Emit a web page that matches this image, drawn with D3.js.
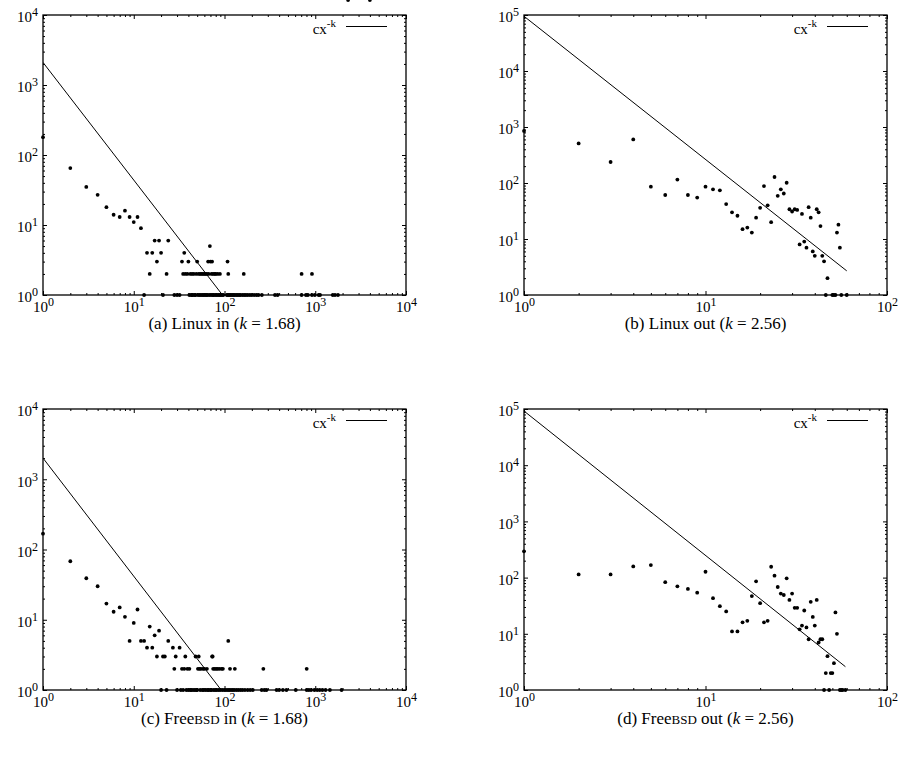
<!DOCTYPE html>
<html>
<head>
<meta charset="utf-8">
<script src="https://cdn.jsdelivr.net/npm/d3@7"></script>
<style>
  body { margin: 0; background: #fff; }
  svg { display: block; }
</style>
</head>
<body>
<svg width="901" height="760"></svg>
<script>
// (a) Linux in-degree distribution
let linuxInX = [1, 2, 3, 4, 5, 6, 7, 8, 9, 10, 11, 12,
  14, 15, 16, 17, 18, 19, 20, 23, 24, 34, 35, 36, 37, 39, 40, 42, 44, 46, 49, 50,
  52, 54, 56, 58, 60, 62, 64, 66, 67, 69, 70, 72, 73, 75, 78, 80, 84, 89,
  108, 110, 163, 707, 920,
  13, 21, 28, 30, 32, 41, 43, 44, 45, 47, 48, 51, 53, 55, 57, 59, 61, 63, 65, 68,
  71, 74, 76, 79, 82, 85, 88, 91, 94, 97, 106, 109, 112, 115, 118, 122, 126, 130,
  135, 140, 145, 150, 158, 165, 172, 180, 190, 200, 212, 225, 237, 258, 360, 385,
  707, 790, 830, 920, 990, 1090, 1130, 1560, 1650, 1780, 2300, 4000];
let linuxInY = [180, 65, 35, 27, 18, 14, 13, 16, 13, 11, 13, 9,
  4, 2, 4, 6, 3, 6, 4, 2, 6, 3, 2, 4, 2, 2, 3, 2, 2, 2, 2, 3,
  2, 2, 2, 2, 2, 2, 2, 3, 2, 5, 3, 2, 3, 2, 2, 2, 2, 2,
  3, 2, 2, 2, 2,
  1, 1, 1, 1, 1, 1, 1, 1, 1, 1, 1, 1, 1, 1, 1, 1, 1, 1, 1, 1,
  1, 1, 1, 1, 1, 1, 1, 1, 1, 1, 1, 1, 1, 1, 1, 1, 1, 1,
  1, 1, 1, 1, 1, 1, 1, 1, 1, 1, 1, 1, 1, 1,
  1, 1, 1, 1, 1, 1, 1, 1, 1, 1, 1, 1];

// (b) Linux out-degree distribution
let linuxOutX = [1, 2, 3, 4, 5, 6, 7, 8, 9, 10, 11, 12, 13, 14, 15, 16, 17, 18, 19, 20,
  21, 22, 23, 24, 25, 26, 27, 28, 29, 30, 31, 32, 33, 34, 35, 36, 37, 38, 39, 40,
  41, 42, 43, 44, 45, 47, 53, 54, 55,
  46, 50, 51, 52, 56, 60];
let linuxOutY = [850, 510, 237, 600, 86, 61, 115, 61, 55, 86, 77, 74, 42, 30, 26, 15, 16, 13, 24, 36,
  88, 40, 20, 128, 59, 77, 65, 101, 34, 31, 34, 33, 8, 28, 9, 7, 37, 24, 6, 5,
  34, 30, 17, 5, 4, 2, 13, 18, 7,
  1, 1, 1, 1, 1, 1];

// (c) FreeBSD in-degree distribution
let bsdInX = [1, 2, 3, 4, 5, 6, 7, 8, 9, 10, 11, 12, 13, 14, 15, 16, 17, 18, 19,
  21, 22, 24, 27, 28, 29, 32, 34, 36, 37, 39, 41, 48, 51, 52, 53, 55, 58, 60, 64,
  73, 74, 75, 78, 81, 84, 88, 93, 96, 110, 115, 130, 268, 805,
  20, 23, 30, 33, 35, 38, 40, 42, 43, 45, 47, 49, 50, 54, 57, 59, 62, 65, 67, 70,
  72, 76, 79, 82, 86, 90, 95, 100, 104, 109, 113, 118, 123, 128, 135, 142, 150,
  158, 168, 180, 192, 205, 257, 275, 290, 375, 400, 440, 482, 610, 805, 850, 900,
  980, 1050, 1120, 1200, 1300, 1450, 1950];
let bsdInY = [168, 68, 39, 30, 17, 13, 15, 11, 5, 9, 14, 5, 5, 4, 8, 4, 6, 3, 7,
  3, 3, 5, 4, 2, 3, 4, 2, 2, 3, 2, 2, 3, 2, 3, 2, 2, 2, 2, 2,
  3, 3, 2, 2, 2, 2, 2, 2, 2, 5, 2, 2, 2, 2,
  1, 1, 1, 1, 1, 1, 1, 1, 1, 1, 1, 1, 1, 1, 1, 1, 1, 1, 1, 1,
  1, 1, 1, 1, 1, 1, 1, 1, 1, 1, 1, 1, 1, 1, 1, 1, 1,
  1, 1, 1, 1, 1, 1, 1, 1, 1, 1, 1, 1, 1, 1, 1, 1,
  1, 1, 1, 1, 1, 1, 1];

// (d) FreeBSD out-degree distribution
let bsdOutX = [1, 2, 3, 4, 5, 6, 7, 8, 9, 10, 11, 12, 13, 14, 15, 16, 17, 18, 19, 20,
  21, 22, 23, 24, 25, 26, 27, 28, 29, 30, 31, 32, 33, 34, 35, 36, 37, 38, 39, 40,
  41, 42, 43, 44, 45, 46, 47, 48, 49, 50, 51, 52, 53, 55, 56, 57, 59];
let bsdOutY = [293, 114, 114, 158, 167, 83, 70, 63, 54, 127, 43, 31, 25, 11, 11, 16, 17, 47, 86, 35,
  16, 17, 156, 108, 68, 52, 49, 97, 40, 52, 29, 29, 12, 14, 26, 13, 8, 37, 20, 14,
  40, 7, 8, 8, 1, 2, 4, 1, 2, 2, 3, 24, 10, 1, 1, 1, 1];

// fitted cx^-k lines, end points
let fitLinuxInX = [1, 95], fitLinuxInY = [2100, 1];
let fitLinuxOutX = [1, 60], fitLinuxOutY = [95000, 2.7];
let fitBsdInX = [1, 92], fitBsdInY = [2000, 1];
let fitBsdOutX = [1, 59], fitBsdOutY = [92000, 2.6];

let inXDomain = [1, 1e4], inYDomain = [1, 1e4];
let outXDomain = [1, 1e2], outYDomain = [1, 1e5];

let captions = [
  [["(a) Linux in ("], ["k", "i"], [" = 1.68)"]],
  [["(b) Linux out ("], ["k", "i"], [" = 2.56)"]],
  [["(c) Free"], ["BSD", "sc"], [" in ("], ["k", "i"], [" = 1.68)"]],
  [["(d) Free"], ["BSD", "sc"], [" out ("], ["k", "i"], [" = 2.56)"]]
];

const serif = "'Liberation Serif', 'Times New Roman', serif";
let svg = d3.select("svg");

let panels = [
  { xs: linuxInX, ys: linuxInY, fx: fitLinuxInX, fy: fitLinuxInY, xd: inXDomain, yd: inYDomain,
    left: 43, right: 406, top: 15, bottom: 295, cap: captions[0], capY: 329 },
  { xs: linuxOutX, ys: linuxOutY, fx: fitLinuxOutX, fy: fitLinuxOutY, xd: outXDomain, yd: outYDomain,
    left: 524, right: 887, top: 15, bottom: 295, cap: captions[1], capY: 329 },
  { xs: bsdInX, ys: bsdInY, fx: fitBsdInX, fy: fitBsdInY, xd: inXDomain, yd: inYDomain,
    left: 43, right: 406, top: 409, bottom: 690, cap: captions[2], capY: 724 },
  { xs: bsdOutX, ys: bsdOutY, fx: fitBsdOutX, fy: fitBsdOutY, xd: outXDomain, yd: outYDomain,
    left: 524, right: 887, top: 409, bottom: 690, cap: captions[3], capY: 724 }
];

function decades(dom) {
  let lo = Math.round(Math.log10(dom[0])), hi = Math.round(Math.log10(dom[1]));
  return d3.range(lo, hi + 1).map((e) => Math.pow(10, e));
}
function minors(dom) {
  let out = [];
  decades(dom).slice(0, -1).forEach((d) => {
    for (let m = 2; m <= 9; m++) out.push(m * d);
  });
  return out;
}
function powerLabel(sel, dy) {
  sel.selectAll(".tick text").attr("dy", dy).each(function (d) {
    let t = d3.select(this).text(null);
    t.append("tspan").text("10");
    t.append("tspan").attr("dy", -6).attr("font-size", 12).text(Math.round(Math.log10(d)));
  });
}

panels.forEach((p, i) => {
  let g = svg.append("g");
  let x = d3.scaleLog().domain(p.xd).range([p.left, p.right]);
  let y = d3.scaleLog().domain(p.yd).range([p.bottom, p.top]);

  let axes = [
    { a: d3.axisBottom(x), t: `translate(0,${p.bottom})`, vals: decades(p.xd), minor: minors(p.xd), label: "0.71em", pad: 6 },
    { a: d3.axisTop(x), t: `translate(0,${p.top})`, vals: decades(p.xd), minor: minors(p.xd) },
    { a: d3.axisLeft(y), t: `translate(${p.left},0)`, vals: decades(p.yd), minor: minors(p.yd), label: "0.45em", pad: 5 },
    { a: d3.axisRight(y), t: `translate(${p.right},0)`, vals: decades(p.yd), minor: minors(p.yd) }
  ];
  axes.forEach((ax) => {
    let make = () => ax.a.tickFormat(() => "").tickSizeOuter(0);
    // minor ticks
    g.append("g").attr("transform", ax.t)
      .call(make().tickValues(ax.minor).tickSize(-2))
      .call((s) => s.select(".domain").remove())
      .call((s) => s.selectAll("text").remove());
    // major ticks
    let maj = g.append("g").attr("transform", ax.t)
      .call(make().tickValues(ax.vals).tickSize(-4).tickPadding(ax.pad || 3))
      .call((s) => s.select(".domain").remove())
      .attr("font-family", serif).attr("font-size", 15);
    if (ax.label) maj.call(powerLabel, ax.label);
    else maj.selectAll("text").remove();
  });
  g.selectAll(".tick line").attr("stroke", "#000");

  // frame
  g.append("rect")
    .attr("x", p.left).attr("y", p.top)
    .attr("width", p.right - p.left).attr("height", p.bottom - p.top)
    .attr("fill", "none").attr("stroke", "#000").attr("stroke-width", 1.3);

  // fitted line, clipped to the plot area
  let clipId = "clip" + i;
  svg.append("clipPath").attr("id", clipId).append("rect")
    .attr("x", p.left).attr("y", p.top)
    .attr("width", p.right - p.left).attr("height", p.bottom - p.top);
  let fit = p.fx.map((v, j) => [v, p.fy[j]]);
  g.append("path")
    .datum(fit)
    .attr("clip-path", `url(#${clipId})`)
    .attr("fill", "none").attr("stroke", "#000").attr("stroke-width", 1)
    .attr("d", d3.line().x((d) => x(d[0])).y((d) => y(d[1])));

  // data points
  let pts = p.xs.map((v, j) => [v, p.ys[j]]);
  g.selectAll("circle.pt")
    .data(pts)
    .enter().append("circle")
      .attr("class", "pt")
      .attr("cx", (d) => x(d[0]))
      .attr("cy", (d) => y(d[1]))
      .attr("r", 1.9)
      .attr("fill", "#000");

  // legend
  let ly = p.top + 11.5;
  g.append("line")
    .attr("x1", p.right - 60).attr("x2", p.right - 19)
    .attr("y1", ly).attr("y2", ly)
    .attr("stroke", "#000").attr("stroke-width", 1);
  let lt = g.append("text")
    .attr("x", p.right - 70).attr("y", ly + 7)
    .attr("text-anchor", "end")
    .attr("font-family", serif).attr("font-size", 15);
  lt.append("tspan").text("cx");
  lt.append("tspan").attr("dy", -7).attr("font-size", 11).text("-k");

  // caption
  let cap = svg.append("text")
    .attr("x", (p.left + p.right) / 2).attr("y", p.capY)
    .attr("text-anchor", "middle")
    .attr("font-family", serif).attr("font-size", 17);
  p.cap.forEach((part) => {
    let ts = cap.append("tspan").text(part[0]);
    if (part[1] === "i") ts.attr("font-style", "italic");
    if (part[1] === "sc") ts.attr("font-size", 13);
  });
});
</script>
</body>
</html>
